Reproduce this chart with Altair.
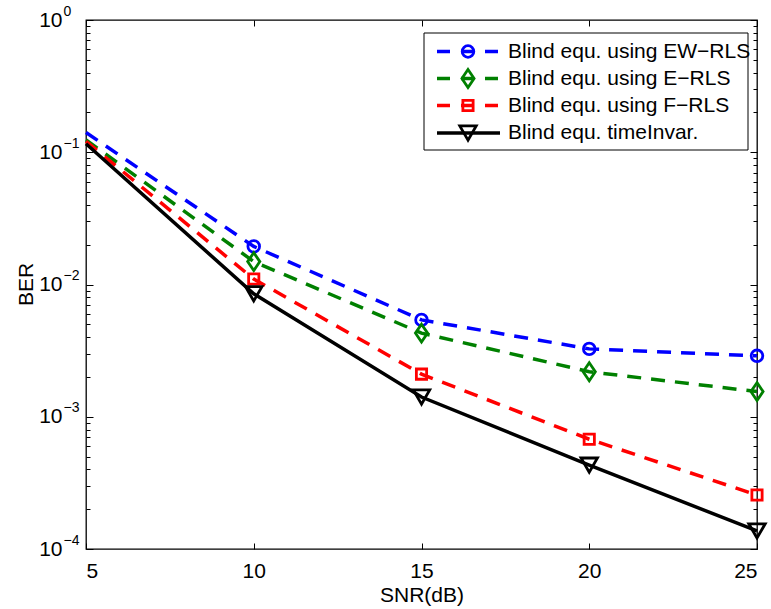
import altair as alt
import pandas as pd

# ---- data ----
snr = [5, 10, 15, 20, 25]
ber_ew = [0.141, 0.0194, 0.0054, 0.00326, 0.00289]
ber_e = [0.124, 0.0149, 0.00429, 0.00219, 0.00155]
ber_f = [0.121, 0.0110, 0.00210, 0.000676, 0.000256]
ber_ti = [0.116, 0.0085, 0.00141, 0.000431, 0.000137]

names = ["Blind equ. using EW\u2212RLS", "Blind equ. using E\u2212RLS",
         "Blind equ. using F\u2212RLS", "Blind equ. timeInvar."]
colors = ["#0000ff", "#008000", "#ff0000", "#000000"]
shapes = ["circle", "M0,-1L0.68,0L0,1L-0.68,0Z", "square", "triangle-down"]
sizes = [135, 320, 105, 270]
dashes = [[14, 10], [14, 10], [14, 10], None]
series = [ber_ew, ber_e, ber_f, ber_ti]

x_ticks = [5, 10, 15, 20, 25]
decades = [1e-4, 1e-3, 1e-2, 1e-1, 1.0]
minor = [k * d for d in decades[:-1] for k in range(1, 10)] + [1.0]

W, H = 671, 529
FONT = "Liberation Sans"
LW = 3.5
MW = 2.8

xs = alt.Scale(domain=[5, 25], nice=False, zero=False)
ys = alt.Scale(type="log", domain=[1e-4, 1], nice=False)

major_test = "abs(log(datum.value)/LN10 - round(log(datum.value)/LN10)) < 0.001"
ytick_size = {"condition": {"test": major_test, "value": 7}, "value": 4}

# axes for each of the four line layers
x_axes = [
    alt.Axis(orient="bottom", values=x_ticks, format="d", ticks=False, tickSize=0,
             domain=False, labelFontSize=21, labelPadding=11, labelFont=FONT,
             labelColor="black", title="SNR(dB)", titleFontSize=21, titleFont=FONT,
             titleFontWeight="normal", titleColor="black", titleY=35,
             titleBaseline="top"),
    alt.Axis(orient="top", offset=-H, values=x_ticks, labels=False, domain=False,
             ticks=True, tickSize=6, tickColor="black", tickWidth=1, title=None),
    alt.Axis(orient="bottom", offset=-H, values=x_ticks, labels=False, domain=False,
             ticks=True, tickSize=6, tickColor="black", tickWidth=1, title=None),
    None,
]
y_axes = [
    alt.Axis(orient="left", values=decades, labelExpr="'10'", ticks=False, tickSize=0,
             domain=False, labelFontSize=21, labelPadding=24, labelFont=FONT,
             labelColor="black", title="BER", titleFontSize=21, titleFont=FONT,
             titleFontWeight="normal", titleColor="black", titleX=-60, titleY=264,
             titleBaseline="middle", titleAlign="center"),
    alt.Axis(orient="left", values=decades,
             labelExpr="datum.value >= 0.5 ? '0' : '\u2212' + format(-round(log(datum.value)/LN10), 'd')",
             ticks=False, tickSize=0, domain=False, labelFontSize=14, labelPadding=23,
             labelAlign="left", labelOffset=-9, labelFont=FONT, labelColor="black", title=None),
    alt.Axis(orient="right", offset=-W, values=minor, labels=False, domain=False,
             ticks=True, tickSize=ytick_size, tickColor="black", tickWidth=1, title=None),
    alt.Axis(orient="left", offset=-W, values=minor, labels=False, domain=False,
             ticks=True, tickSize=ytick_size, tickColor="black", tickWidth=1, title=None),
]

layers = []
for i in range(4):
    df = pd.DataFrame({"snr": snr, "ber": series[i]})
    lkw = dict(color=colors[i], strokeWidth=LW)
    if dashes[i]:
        lkw["strokeDash"] = dashes[i]
    layers.append(
        alt.Chart(df).mark_line(**lkw).encode(
            x=alt.X("snr:Q", scale=xs, axis=x_axes[i]),
            y=alt.Y("ber:Q", scale=ys, axis=y_axes[i]),
        )
    )
for i in range(4):
    df = pd.DataFrame({"snr": snr[1:], "ber": series[i][1:]})
    layers.append(
        alt.Chart(df).mark_point(shape=shapes[i], size=sizes[i], filled=False,
                                 stroke=colors[i], strokeWidth=MW, opacity=1).encode(
            x=alt.X("snr:Q", scale=xs, axis=None),
            y=alt.Y("ber:Q", scale=ys, axis=None),
        )
    )

# ---- legend box (MATLAB style) ----
one = pd.DataFrame({"k": [0]})
LX0, LX1, LY0, LY1 = 338, 662, 13, 130
layers.append(
    alt.Chart(one).mark_rect(fill="white", stroke="black", strokeWidth=1).encode(
        x=alt.value(LX0), x2=alt.value(LX1), y=alt.value(LY0), y2=alt.value(LY1))
)
row_y = [31.5, 58.5, 85.5, 113]
for i in range(4):
    rkw = dict(color=colors[i], strokeWidth=LW)
    if dashes[i]:
        rkw["strokeDash"] = [13, 11]
    layers.append(
        alt.Chart(one).mark_rule(**rkw).encode(
            x=alt.value(351), x2=alt.value(414), y=alt.value(row_y[i]))
    )
    layers.append(
        alt.Chart(one).mark_point(shape=shapes[i], size=sizes[i], filled=False,
                                  stroke=colors[i], strokeWidth=MW, opacity=1).encode(
            x=alt.value(382), y=alt.value(row_y[i]))
    )
    layers.append(
        alt.Chart(one).mark_text(align="left", baseline="middle", fontSize=21,
                                 font=FONT, color="black").encode(
            x=alt.value(422), y=alt.value(row_y[i]), text=alt.value(names[i]))
    )

chart = (
    alt.layer(*layers)
    .resolve_axis(x="independent", y="independent")
    .properties(width=W, height=H,
                autosize=alt.AutoSizeParams(type="none"),
                padding={"left": 86, "top": 20, "right": 14, "bottom": 60},
                background="white")
    .configure_view(stroke="black", strokeWidth=1.3)
    .configure_axis(grid=False)
)

chart.save("out.html", embed_options={"renderer": "svg", "actions": False})
